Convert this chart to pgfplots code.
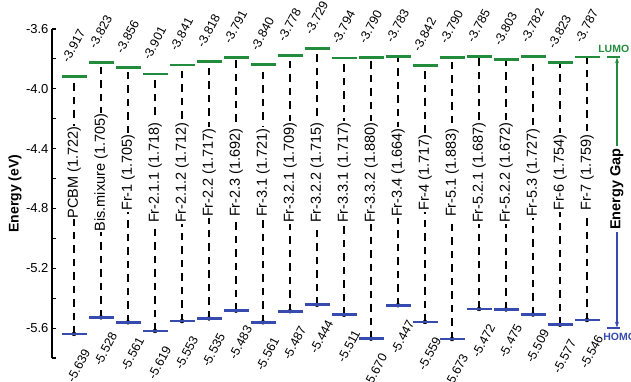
\documentclass[border=0pt]{standalone}
\usepackage{pgfplots}
\pgfplotsset{compat=1.18}
\usepackage{pgfplotstable}
\usepackage{fontspec}
\setmainfont{Liberation Sans}
\usetikzlibrary{arrows.meta}
\definecolor{lumogreen}{RGB}{35,140,60}
\definecolor{homoblue}{RGB}{55,75,175}
\definecolor{valred}{RGB}{240,30,30}

\pgfplotsset{
  discard if not/.style 2 args={x filter/.code={\edef\tempa{\thisrow{#1}}\edef\tempb{#2}\ifx\tempa\tempb\else\def\pgfmathresult{inf}\fi}},
  discard if/.style 2 args={x filter/.code={\edef\tempa{\thisrow{#1}}\edef\tempb{#2}\ifx\tempa\tempb\def\pgfmathresult{inf}\fi}},
}

\pgfplotstableread[col sep=comma]{
x,lumo,homo,name,col
0,-3.917,-5.639,PCBM (1.722),r
1,-3.823,-5.528,Bis.mixure (1.705),r
2,-3.856,-5.561,Fr-1 (1.705),k
3,-3.901,-5.619,Fr-2.1.1 (1.718),k
4,-3.841,-5.553,Fr-2.1.2 (1.712),k
5,-3.818,-5.535,Fr-2.2 (1.717),k
6,-3.791,-5.483,Fr-2.3 (1.692),k
7,-3.840,-5.561,Fr-3.1 (1.721),k
8,-3.778,-5.487,Fr-3.2.1 (1.709),k
9,-3.729,-5.444,Fr-3.2.2 (1.715),r
10,-3.794,-5.511,Fr-3.3.1 (1.717),k
11,-3.790,-5.670,Fr-3.3.2 (1.880),k
12,-3.783,-5.447,Fr-3.4 (1.664),k
13,-3.842,-5.559,Fr-4 (1.717),k
14,-3.790,-5.673,Fr-5.1 (1.883),k
15,-3.785,-5.472,Fr-5.2.1 (1.687),k
16,-3.803,-5.475,Fr-5.2.2 (1.672),k
17,-3.782,-5.509,Fr-5.3 (1.727),k
18,-3.823,-5.577,Fr-6 (1.754),k
19,-3.787,-5.546,Fr-7 (1.759),k
}\datatable

\begin{document}
\begin{tikzpicture}
\useasboundingbox (0,0) rectangle (631pt,381pt);
\begin{axis}[
  at={(52pt,23pt)}, anchor=south west,
  scale only axis, width=579pt, height=329pt,
  xmin=-0.815, xmax=20.63, ymin=-5.8, ymax=-3.6,
  hide x axis,
  axis y line*=left,
  ytick={-5.6,-5.2,-4.8,-4.4,-4.0,-3.6},
  minor ytick={-5.8,-5.4,-5.0,-4.6,-4.2,-3.8},
  tick align=inside,
  major tick length=4pt, minor tick length=4pt,
  tick style={line width=1.1pt, black},
  axis line style={line width=1.2pt, black},
  yticklabel style={font=\fontsize{13}{13}\selectfont},
  /pgf/number format/.cd, fixed, fixed zerofill, precision=1, assume math mode=true,
  /pgfplots/.cd,
  ylabel={Energy (eV)},
  ylabel style={at={(axis description cs:-0.064,0.5)}, anchor=center, font=\fontsize{14}{14}\selectfont\bfseries},
  clip=false,
  nodes near coords align=center,
]
% dashed connectors
\addplot[only marks, mark=none,
  error bars/.cd, y dir=plus, y explicit, error mark=none,
  error bar style={draw=black, line width=1.5pt, dash pattern=on 7.5pt off 6pt}]
  table[x=x, y=homo, y error expr=\thisrow{lumo}-\thisrow{homo}] \datatable;
% LUMO levels
\addplot[only marks, mark=-, mark size=12.5pt, mark options={line width=2.8pt, draw=lumogreen}]
  table[x=x, y=lumo] \datatable;
% HOMO levels
\addplot[only marks, mark=-, mark size=12.5pt, mark options={line width=2.8pt, draw=homoblue}]
  table[x=x, y=homo] \datatable;
% name labels
\addplot[only marks, mark=none, nodes near coords, point meta=explicit symbolic,
  nodes near coords style={rotate=90, anchor=center, fill=white, inner sep=1pt, text=black, font=\fontsize{14.5}{14.5}\selectfont}]
  table[x=x, y expr=-4.56, meta=name] \datatable;
% LUMO value labels (black)
\addplot[only marks, mark=none, nodes near coords, point meta=explicit symbolic, discard if={col}{r},
  nodes near coords style={rotate=62, anchor=west, inner sep=0pt, text=black, font=\fontsize{12.5}{12.5}\selectfont}]
  table[x expr=\thisrow{x}-0.333, y expr=\thisrow{lumo}+0.100, meta=lumo] \datatable;
% LUMO value labels (red)
\addplot[only marks, mark=none, nodes near coords, point meta=explicit symbolic, discard if not={col}{r},
  nodes near coords style={rotate=62, anchor=west, inner sep=0pt, text=valred, font=\fontsize{12.5}{12.5}\selectfont}]
  table[x expr=\thisrow{x}-0.333, y expr=\thisrow{lumo}+0.100, meta=lumo] \datatable;
% HOMO value labels
\addplot[only marks, mark=none, nodes near coords, point meta=explicit symbolic,
  nodes near coords style={rotate=62, anchor=east, inner sep=0pt, text=black, font=\fontsize{12.5}{12.5}\selectfont}]
  table[x expr=\thisrow{x}+0.48, y expr=\thisrow{homo}-0.107, meta=homo] \datatable;
% right-hand legend / energy gap arrows
\addplot[lumogreen, line width=2pt] coordinates {(19.74,-3.787) (20.22,-3.787)};
\addplot[homoblue, line width=2pt] coordinates {(19.74,-5.600) (20.22,-5.600)};
\addplot[lumogreen, line width=1.3pt, -{Stealth[length=6pt,width=4pt]}] coordinates {(20.11,-4.38) (20.11,-3.79)};
\addplot[homoblue, line width=1.3pt, -{Stealth[length=6pt,width=4pt]}] coordinates {(20.11,-4.96) (20.11,-5.597)};
\node[rotate=90, font=\fontsize{14.5}{14.5}\selectfont\bfseries] at (axis cs:20.11,-4.67) {Energy Gap};
\node[anchor=west, inner sep=0pt, text=lumogreen, font=\fontsize{10.5}{10.5}\selectfont\bfseries] at (axis cs:19.41,-3.735) {LUMO};
\node[anchor=west, inner sep=0pt, text=homoblue, font=\fontsize{10.5}{10.5}\selectfont\bfseries] at (axis cs:19.6,-5.66) {HOMO};
\end{axis}
\end{tikzpicture}
\end{document}
